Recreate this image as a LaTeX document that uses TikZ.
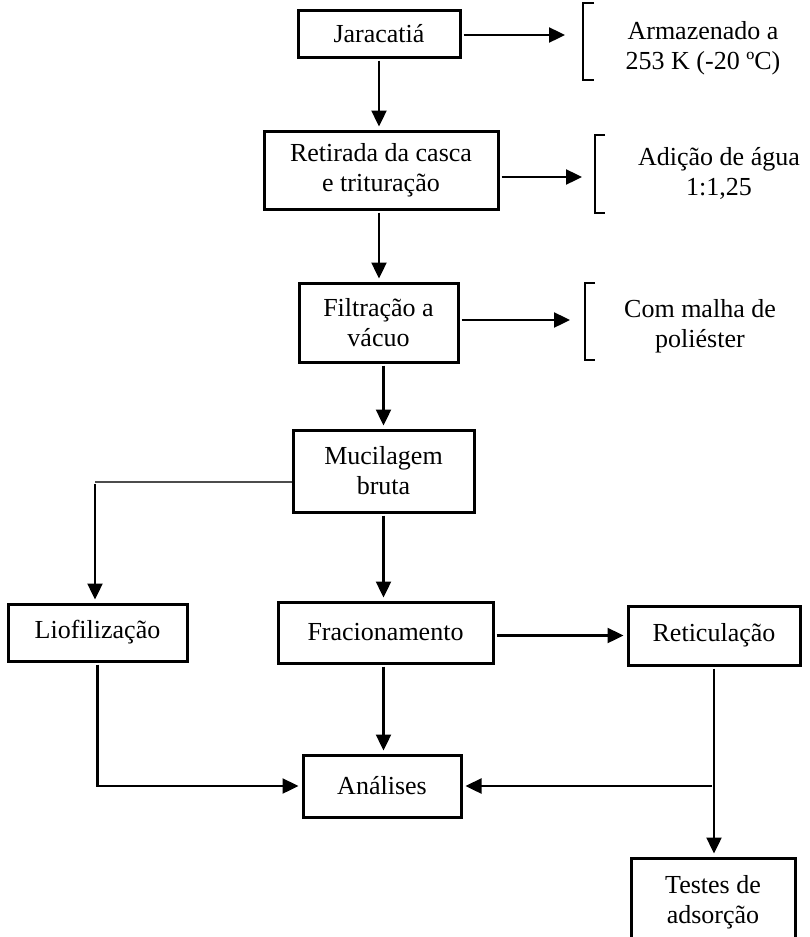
\documentclass[tikz,border=0pt]{standalone}
\usepackage{fontspec}
\setmainfont{Liberation Serif}
\usepackage{tikz}
\usetikzlibrary{arrows.meta}

\tikzset{
  box/.style={draw, line width=1.5pt, align=center, inner sep=0pt},
  note/.style={align=center, inner sep=0pt},
  arr/.style={line width=1.2pt, -{Triangle[length=8pt,width=7.5pt]}, shorten <=1pt, shorten >=1.5pt},
  brk/.style={line width=1.4pt},
  every node/.style={font=\fontsize{13}{15}\selectfont}
}

\begin{document}
\begin{tikzpicture}[x=0.5pt, y=-0.5pt]
\useasboundingbox (0,0) rectangle (809,937);
\node[box, minimum width=81pt, minimum height=23.5pt] (jar) at (379,33.5) {Jaracatiá};
\node[box, minimum width=117pt, minimum height=39pt] (ret) at (381,170) {Retirada da casca\\e trituração};
\node[box, minimum width=79.5pt, minimum height=39.5pt] (fil) at (378.5,322.5) {Filtração a\\vácuo};
\node[box, minimum width=90.5pt, minimum height=41pt] (muc) at (383.5,471) {Mucilagem\\bruta};
\node[box, minimum width=89.5pt, minimum height=28.5pt] (lio) at (97.5,632.5) {Liofilização};
\node[box, minimum width=107.5pt, minimum height=30.5pt] (fra) at (385.5,632.5) {Fracionamento};
\node[box, minimum width=86pt, minimum height=29.5pt] (rtc) at (714,635.5) {Reticulação};
\node[box, minimum width=79pt, minimum height=31pt] (ana) at (382,786) {Análises};
\node[box, minimum width=82pt, minimum height=44pt] (tes) at (713,902) {Testes de\\adsorção};
\node[note] (n1) at (703,48) {Armazenado a\\253 K (-20 ºC)};
\node[note] (n2) at (719,173) {Adição de água\\1:1,25};
\node[note] (n3) at (700,326) {Com malha de\\poliéster};
\draw[brk] (594,3) -- (583,3) -- (583,80) -- (594,80);
\draw[brk] (605,135) -- (595,135) -- (595,213) -- (605,213);
\draw[brk] (595,283) -- (585,283) -- (585,360) -- (595,360);
\coordinate (t1) at (568,35);
\coordinate (t2) at (585,177);
\coordinate (t3) at (573,320);
\coordinate (c1) at (95,482);
\draw[arr] (jar.east |- t1) -- (t1);
\draw[arr] (ret.east |- t2) -- (t2);
\draw[arr] (fil.east |- t3) -- (t3);
\draw[arr] (jar.south) -- (jar.south |- ret.north);
\draw[arr] (jar.south |- ret.south) -- (jar.south |- fil.north);
\draw[arr] (fil.south -| muc.south) -- (muc.north);
\draw[arr] (muc.south) -- (muc.south |- fra.north);
\draw[line width=0.9pt, black!70] (muc.west |- c1) -- (c1);
\draw[arr] (c1) -- (c1 |- lio.north);
\draw[arr] (fra.east |- rtc.west) -- (rtc.west);
\draw[arr] (muc.south |- fra.south) -- (muc.south |- ana.north);
\draw[arr] (lio.south) |- (ana.west);
\draw[arr] (rtc.south) -- (rtc.south |- tes.north);
\draw[arr] (rtc.south |- ana.east) -- (ana.east);
\end{tikzpicture}
\end{document}
